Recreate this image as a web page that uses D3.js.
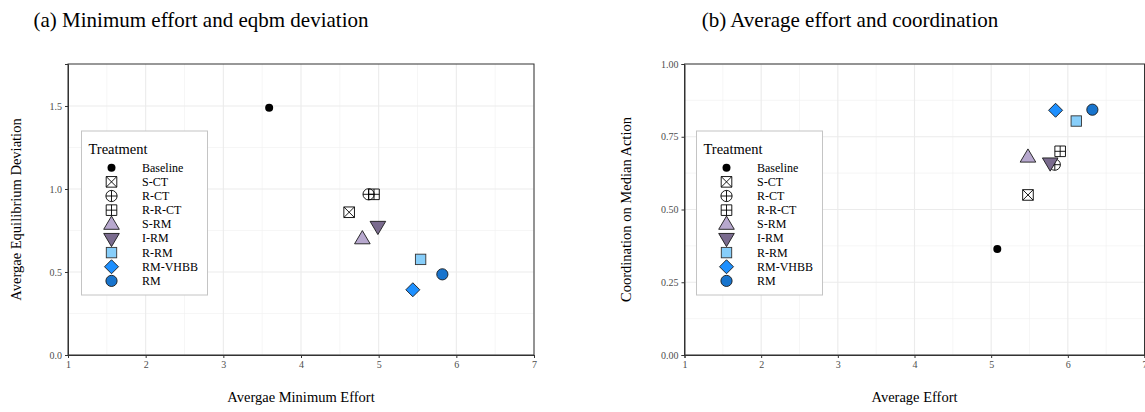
<!DOCTYPE html>
<html>
<head>
<meta charset="utf-8">
<script src="https://d3js.org/d3.v7.min.js"></script>
<style>
  body { margin: 0; background: #fff; }
  svg { display: block; font-family: "Liberation Serif", "Times New Roman", serif; }
</style>
</head>
<body>
<svg id="chart" width="1145" height="412"></svg>
<script>
// treatments, in legend order
const treatments = ["Baseline", "S-CT", "R-CT", "R-R-CT", "S-RM", "I-RM", "R-RM", "RM-VHBB", "RM"];
const shapes = ["dot", "sqx", "cplus", "sqplus", "tri", "tridown", "square", "diamond", "circle"];
const fills = ["#000000", "none", "none", "none", "#b7a8ce", "#7a6b8e", "#87cefa", "#1e90ff", "#1874cd"];

// panel (a): minimum effort vs equilibrium deviation
const minEffort = [3.59, 4.62, 4.87, 4.94, 4.79, 4.99, 5.54, 5.44, 5.82];
const eqbmDev   = [1.49, 0.86, 0.968, 0.968, 0.70, 0.775, 0.576, 0.393, 0.486];

// panel (b): average effort vs coordination on median action
const avgEffort = [5.08, 5.48, 5.83, 5.90, 5.48, 5.77, 6.11, 5.84, 6.32];
const coordMed  = [0.364, 0.55, 0.654, 0.70, 0.68, 0.66, 0.804, 0.841, 0.843];

const xTicks = [1, 2, 3, 4, 5, 6, 7];
const yTicksA = [0, 0.5, 1.0, 1.5];
const yTicksB = [0, 0.25, 0.5, 0.75, 1.0];

const svg = d3.select("#chart");

function drawShape(g, shape, fill) {
  if (shape === "dot") {
    g.append("circle").attr("r", 4).attr("fill", "#000");
  } else if (shape === "circle") {
    g.append("circle").attr("r", 5.6).attr("fill", fill).attr("stroke", "#1a1a1a").attr("stroke-width", 0.9);
  } else if (shape === "square") {
    g.append("rect").attr("x", -5.2).attr("y", -5.2).attr("width", 10.4).attr("height", 10.4)
      .attr("fill", fill).attr("stroke", "#333").attr("stroke-width", 0.9);
  } else if (shape === "diamond") {
    g.append("path").attr("d", "M0,-7L7,0L0,7L-7,0Z")
      .attr("fill", fill).attr("stroke", "#1a1a1a").attr("stroke-width", 0.9);
  } else if (shape === "tri") {
    g.append("path").attr("d", "M0,-8.2L7.8,5L-7.8,5Z")
      .attr("fill", fill).attr("stroke", "#1a1a1a").attr("stroke-width", 0.9);
  } else if (shape === "tridown") {
    g.append("path").attr("d", "M0,8.2L7.8,-5L-7.8,-5Z")
      .attr("fill", fill).attr("stroke", "#1a1a1a").attr("stroke-width", 0.9);
  } else if (shape === "sqx") {
    g.append("path").attr("d", "M-5.3,-5.3H5.3V5.3H-5.3ZM-5.3,-5.3L5.3,5.3M5.3,-5.3L-5.3,5.3")
      .attr("fill", "none").attr("stroke", "#000").attr("stroke-width", 0.9);
  } else if (shape === "sqplus") {
    g.append("path").attr("d", "M-5.3,-5.3H5.3V5.3H-5.3ZM0,-5.3V5.3M-5.3,0H5.3")
      .attr("fill", "none").attr("stroke", "#000").attr("stroke-width", 0.9);
  } else if (shape === "cplus") {
    g.append("circle").attr("r", 5.6).attr("fill", "none").attr("stroke", "#000").attr("stroke-width", 0.9);
    g.append("path").attr("d", "M0,-5.6V5.6M-5.6,0H5.6")
      .attr("fill", "none").attr("stroke", "#000").attr("stroke-width", 0.9);
  }
}

function panel(opts) {
  const x = d3.scaleLinear().domain([1, 7]).range([opts.x0, opts.x1]);
  const y = d3.scaleLinear().domain([0, opts.ymax]).range([355, 64]);
  const g = svg.append("g");

  // minor grid
  const xMinor = d3.range(1.5, 7, 1);
  g.selectAll(".xminor").data(xMinor).enter().append("line")
    .attr("x1", d => x(d)).attr("x2", d => x(d)).attr("y1", 64).attr("y2", 355)
    .attr("stroke", "#f0f0f0").attr("stroke-width", 0.6);
  g.selectAll(".yminor").data(opts.yMinor).enter().append("line")
    .attr("x1", opts.x0).attr("x2", opts.x1).attr("y1", d => y(d)).attr("y2", d => y(d))
    .attr("stroke", "#f0f0f0").attr("stroke-width", 0.6);
  // major grid
  g.selectAll(".xmajor").data(xTicks).enter().append("line")
    .attr("x1", d => x(d)).attr("x2", d => x(d)).attr("y1", 64).attr("y2", 355)
    .attr("stroke", "#ebebeb").attr("stroke-width", 1.1);
  g.selectAll(".ymajor").data(opts.yTicks).enter().append("line")
    .attr("x1", opts.x0).attr("x2", opts.x1).attr("y1", d => y(d)).attr("y2", d => y(d))
    .attr("stroke", "#ebebeb").attr("stroke-width", 1.1);

  // panel border
  g.append("rect").attr("x", opts.x0).attr("y", 64)
    .attr("width", opts.x1 - opts.x0).attr("height", 291)
    .attr("fill", "none").attr("stroke", "#333").attr("stroke-width", 1);

  // axes
  const xAxis = d3.axisBottom(x).tickValues(xTicks).tickSize(3).tickPadding(3).tickFormat(d3.format("d"));
  const gx = g.append("g").attr("transform", "translate(0,355)").call(xAxis);
  const yAxis = d3.axisLeft(y).tickValues(opts.yTicks).tickSize(3).tickPadding(3).tickFormat(opts.yFmt);
  const gy = g.append("g").attr("transform", `translate(${opts.x0},0)`).call(yAxis);
  [gx, gy].forEach(a => {
    a.select(".domain").attr("stroke", "#333");
    a.selectAll(".tick line").attr("stroke", "#333");
    a.selectAll(".tick text").attr("fill", "#4d4d4d").style("font-size", "10px")
      .style("font-family", "Liberation Serif, serif");
  });

  // points
  const pts = g.append("g");
  opts.xs.forEach((v, i) => {
    const p = pts.append("g").attr("transform", `translate(${x(v)},${y(opts.ys[i])})`);
    drawShape(p, shapes[i], fills[i]);
  });

  // axis titles
  g.append("text").attr("x", (opts.x0 + opts.x1) / 2).attr("y", 402)
    .attr("text-anchor", "middle").style("font-size", "14.5px").text(opts.xLabel);
  g.append("text").attr("transform", `translate(${opts.yLabelX},${(64 + 355) / 2}) rotate(-90)`)
    .attr("text-anchor", "middle").style("font-size", "14.5px").text(opts.yLabel);

  // title
  svg.append("text").attr("x", opts.titleX).attr("y", 27)
    .attr("text-anchor", "middle").style("font-size", opts.titleSize).attr("fill", "#000").text(opts.title);

  // legend
  const lg = g.append("g").attr("transform", `translate(${opts.legX},131)`);
  lg.append("rect").attr("width", 126).attr("height", 164)
    .attr("fill", "#fff").attr("stroke", "#c4c4c4").attr("stroke-width", 1);
  lg.append("text").attr("x", 7).attr("y", 23).style("font-size", "14.5px").text("Treatment");
  treatments.forEach((t, i) => {
    const cy = 36.7 + i * 14.15;
    const s = lg.append("g").attr("transform", `translate(30,${cy})`);
    drawShape(s, shapes[i], fills[i]);
    lg.append("text").attr("x", 60.5).attr("y", cy + 4).style("font-size", "12px").text(t);
  });
}

panel({
  x0: 68, x1: 534, ymax: 1.753,
  yTicks: yTicksA, yMinor: [0.25, 0.75, 1.25], yFmt: d3.format(".1f"),
  xs: minEffort, ys: eqbmDev,
  xLabel: "Avergae Minimum Effort", yLabel: "Avergae Equilibrium Deviation", yLabelX: 21,
  title: "(a) Minimum effort and eqbm deviation", titleX: 201, titleSize: "21px",
  legX: 81.5
});

panel({
  x0: 684.5, x1: 1144.5, ymax: 1,
  yTicks: yTicksB, yMinor: [0.125, 0.375, 0.625, 0.875], yFmt: d3.format(".2f"),
  xs: avgEffort, ys: coordMed,
  xLabel: "Average Effort", yLabel: "Coordination on Median Action", yLabelX: 631,
  title: "(b) Average effort and coordination", titleX: 850, titleSize: "21px",
  legX: 696.5
});
</script>
</body>
</html>
